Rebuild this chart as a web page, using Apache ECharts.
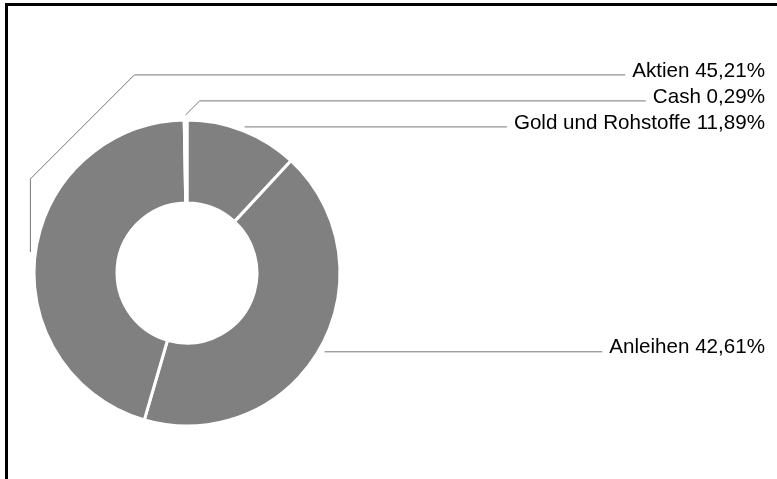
<!DOCTYPE html>
<html>
<head>
<meta charset="utf-8">
<script src="https://cdn.jsdelivr.net/npm/echarts@6/dist/echarts.min.js"></script>
<style>
  html, body { margin: 0; padding: 0; background: #fff; overflow: hidden; }
  #main { position: absolute; left: 0; top: 0; width: 777px; height: 479px; }
  #frame { position: absolute; left: 5px; top: 3px; width: 900px; height: 600px;
           border: 3px solid #000; box-sizing: border-box; pointer-events: none; }
</style>
</head>
<body>
<div id="main"></div>
<div id="frame"></div>
<script>
// data, clockwise from 12 o'clock
const names = ['Gold und Rohstoffe', 'Anleihen', 'Aktien', 'Cash'];
const shares = [11.89, 42.61, 45.21, 0.29];

const center = [187, 273];
const radius = [70, 153];
const textRight = 765;
const rowGap = 26;

const total = shares.reduce((a, b) => a + b, 0);

// point just outside the ring on the middle of slice i
function startPoint(i) {
  let before = 0;
  for (let k = 0; k < i; k++) before += shares[k];
  const a = (before + shares[i] / 2) / total * 2 * Math.PI;
  const r = radius[1] + 5;
  return [center[0] + r * Math.sin(a), center[1] - r * Math.cos(a)];
}

const chart = echarts.init(document.getElementById('main'));

const option = {
  animation: false,
  series: [
    {
      type: 'pie',
      center: center,
      radius: radius,
      startAngle: 90,
      clockwise: true,
      avoidLabelOverlap: false,
      emphasis: { disabled: true },
      itemStyle: {
        color: '#808080',
        borderColor: '#fff',
        borderWidth: 3
      },
      label: {
        show: true,
        position: 'outside',
        bleedMargin: -1000,
        color: '#000',
        fontSize: 20.6,
        fontFamily: '"Liberation Sans", Arial, sans-serif',
        formatter: (p) => p.name + ' ' + p.value.toFixed(2).replace('.', ',') + '%'
      },
      labelLine: {
        show: true,
        lineStyle: { color: '#777', width: 1 }
      },
      labelLayout: function (p) {
        const i = p.dataIndex;
        const s = startPoint(i);
        const goldY = startPoint(0)[1] + 1;
        let rowY;
        let pts;
        if (i === 0 || i === 1) {
          rowY = s[1] + 1;
          pts = [[s[0], rowY]];
        } else if (i === 3) {
          rowY = goldY - rowGap;
          pts = [s, [s[0] + (s[1] - rowY), rowY]];
        } else {
          rowY = goldY - 2 * rowGap;
          const diag = 104;
          pts = [s, [s[0], rowY + diag], [s[0] + diag, rowY]];
        }
        pts.push([textRight - p.labelRect.width - 7, rowY]);
        return {
          x: textRight,
          y: rowY - 4,
          align: 'right',
          verticalAlign: 'middle',
          labelLinePoints: pts
        };
      },
      data: names.map((n, i) => ({ name: n, value: shares[i] }))
    }
  ]
};

chart.setOption(option);
</script>
</body>
</html>
